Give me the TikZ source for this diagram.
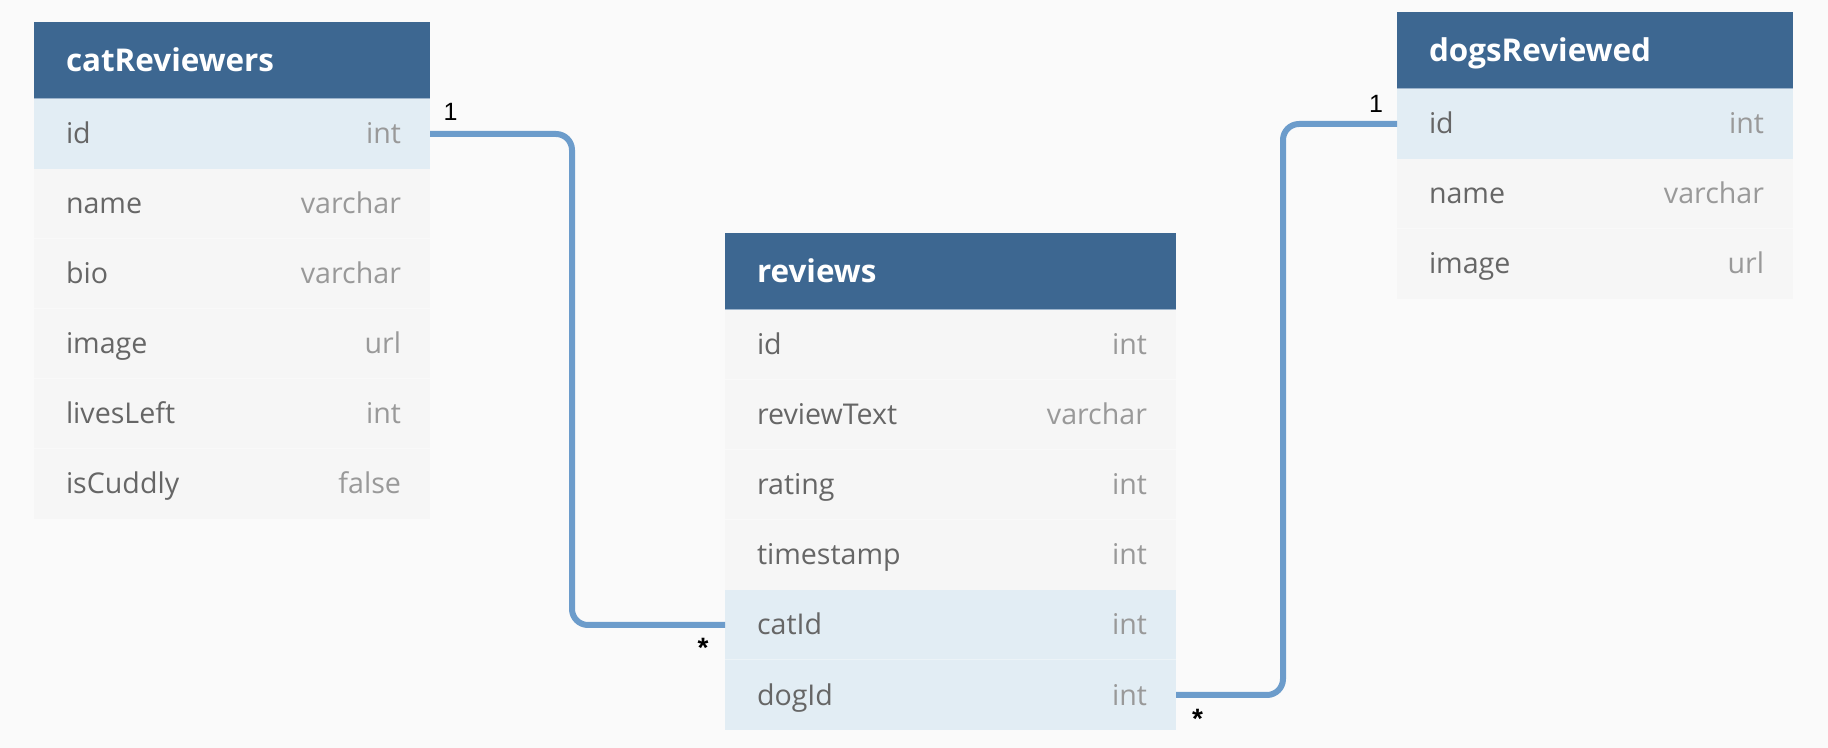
\documentclass[tikz,border=0pt]{standalone}
\usepackage{fontspec}
\newfontfamily\osans{Open Sans}
\newfontfamily\lsans{Liberation Sans}
\definecolor{bg}{HTML}{FAFAFA}
\definecolor{hdr}{HTML}{3D6791}
\definecolor{hdredge}{HTML}{9DB4CC}
\definecolor{rowc}{HTML}{F6F6F6}
\definecolor{keyc}{HTML}{E2EDF4}
\definecolor{fieldc}{HTML}{666666}
\definecolor{typec}{HTML}{999999}
\definecolor{linec}{HTML}{6C9CCB}
\tikzset{
  rowbox/.style={anchor=north west, inner sep=0pt, outer sep=0pt, minimum height=35pt, draw=none},
  headbox/.style={rowbox, minimum height=38.5pt, fill=hdr},
  titletext/.style={inner sep=0pt, outer sep=0pt, text=white, font=\osans\bfseries\fontsize{15.7}{19}\selectfont},
  fieldtext/.style={inner sep=0pt, outer sep=0pt, text=fieldc, font=\osans\fontsize{14.3}{17}\selectfont},
  typetext/.style={inner sep=0pt, outer sep=0pt, text=typec, font=\osans\fontsize{14.3}{17}\selectfont},
  sepline/.style={draw=white, line width=0.5pt, opacity=0.35},
  conn/.style={draw=linec, line width=3pt, rounded corners=8pt},
  card/.style={inner sep=0pt, outer sep=0pt, anchor=base, text=black, font=\lsans\fontsize{12.5}{14}\selectfont},
  star/.style={card, font=\lsans\bfseries\fontsize{14}{16}\selectfont}
}
\newcommand\tabhead[5]{%
  \node[headbox, minimum width=#4] (#1) at (#2,#3) {};
  \draw[hdredge, line width=0.5pt] (#1.south west) -- (#1.south east);
  \node[titletext, anchor=base west, xshift=16pt, yshift=-5.75pt] (#1-t) at (#1.west) {#5};}
\newcommand\tabrow[7]{%
  \node[rowbox, minimum width=#4, fill=#7] (#1) at (#2,#3) {};
  \node[fieldtext, anchor=base west, xshift=16pt, yshift=-5pt] (#1-f) at (#1.west) {#5};
  \node[typetext, anchor=base east, xshift=-14.5pt, yshift=-5pt] (#1-k) at (#1.east) {#6};}
\begin{document}
\begin{tikzpicture}[x=0.5pt,y=-0.5pt]
\useasboundingbox[fill=bg] (0,0) rectangle (1828,748);
% catReviewers
\tabhead{cr}{34}{22}{198pt}{catReviewers}
\tabrow{cr-id}{34}{99}{198pt}{id}{int}{keyc}
\tabrow{cr-name}{34}{169}{198pt}{name}{varchar}{rowc}
\tabrow{cr-bio}{34}{239}{198pt}{bio}{varchar}{rowc}
\tabrow{cr-image}{34}{309}{198pt}{image}{url}{rowc}
\tabrow{cr-lives}{34}{379}{198pt}{livesLeft}{int}{rowc}
\tabrow{cr-cuddly}{34}{449}{198pt}{isCuddly}{false}{rowc}
\foreach \r in {cr-bio,cr-image,cr-lives,cr-cuddly}{\draw[sepline] (\r.north west) -- (\r.north east);}
% reviews
\tabhead{rv}{725}{233}{225.5pt}{reviews}
\tabrow{rv-id}{725}{310}{225.5pt}{id}{int}{rowc}
\tabrow{rv-text}{725}{380}{225.5pt}{reviewText}{varchar}{rowc}
\tabrow{rv-rating}{725}{450}{225.5pt}{rating}{int}{rowc}
\tabrow{rv-time}{725}{520}{225.5pt}{timestamp}{int}{rowc}
\tabrow{rv-catId}{725}{590}{225.5pt}{catId}{int}{keyc}
\tabrow{rv-dogId}{725}{660}{225.5pt}{dogId}{int}{keyc}
\foreach \r in {rv-text,rv-rating,rv-time,rv-dogId}{\draw[sepline] (\r.north west) -- (\r.north east);}
% dogsReviewed
\tabhead{dr}{1397}{12}{198pt}{dogsReviewed}
\tabrow{dr-id}{1397}{89}{198pt}{id}{int}{keyc}
\tabrow{dr-name}{1397}{159}{198pt}{name}{varchar}{rowc}
\tabrow{dr-image}{1397}{229}{198pt}{image}{url}{rowc}
\foreach \r in {dr-image}{\draw[sepline] (\r.north west) -- (\r.north east);}
% connectors
\coordinate (c1x) at (572,0);
\coordinate (c2x) at (1283,0);
\draw[conn] (cr-id.east) -- (cr-id.east -| c1x) |- (rv-catId.west);
\draw[conn] (rv-dogId.east) -- (rv-dogId.east -| c2x) |- (dr-id.west);
% cardinalities
\node[card] (l1) at (450.5,121) {1};
\node[star] (l2) at (703,658) {*};
\node[card] (l3) at (1376,113) {1};
\node[star] (l4) at (1197.5,728) {*};
\end{tikzpicture}
\end{document}
